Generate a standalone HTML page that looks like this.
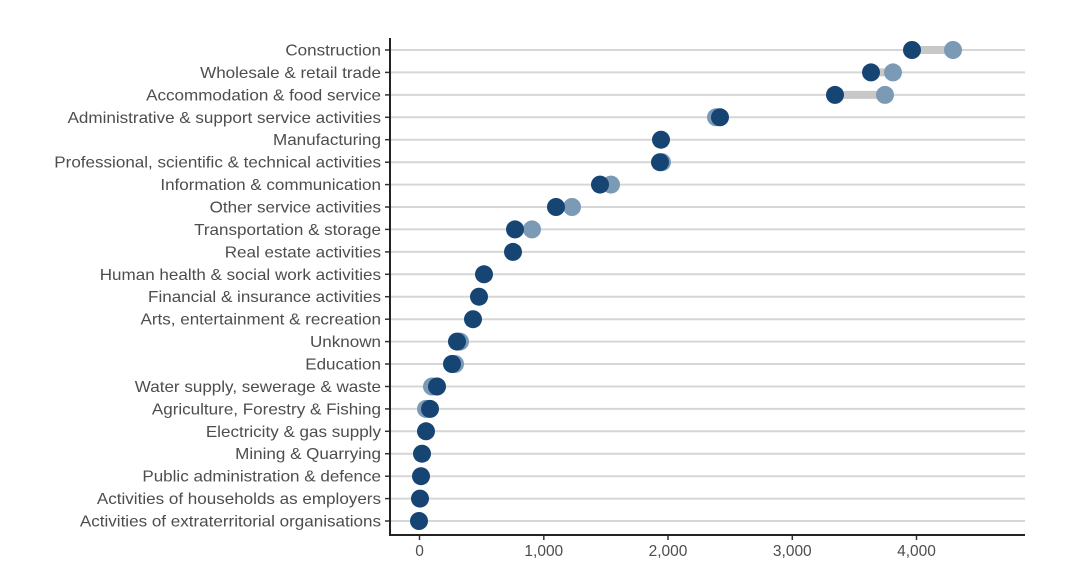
<!DOCTYPE html>
<html><head><meta charset="utf-8"><style>body{margin:0;background:#fff}</style></head><body>
<svg width="1068" height="580" xmlns="http://www.w3.org/2000/svg" font-family="Liberation Sans, sans-serif">
<g stroke="#d6d6d6" stroke-width="2">
<line x1="390" x2="1025" y1="50" y2="50"/><line x1="390" x2="1025" y1="72.4" y2="72.4"/><line x1="390" x2="1025" y1="94.9" y2="94.9"/><line x1="390" x2="1025" y1="117.3" y2="117.3"/><line x1="390" x2="1025" y1="139.7" y2="139.7"/><line x1="390" x2="1025" y1="162.2" y2="162.2"/><line x1="390" x2="1025" y1="184.6" y2="184.6"/><line x1="390" x2="1025" y1="207" y2="207"/><line x1="390" x2="1025" y1="229.4" y2="229.4"/><line x1="390" x2="1025" y1="251.9" y2="251.9"/><line x1="390" x2="1025" y1="274.3" y2="274.3"/><line x1="390" x2="1025" y1="296.7" y2="296.7"/><line x1="390" x2="1025" y1="319.2" y2="319.2"/><line x1="390" x2="1025" y1="341.6" y2="341.6"/><line x1="390" x2="1025" y1="364" y2="364"/><line x1="390" x2="1025" y1="386.5" y2="386.5"/><line x1="390" x2="1025" y1="408.9" y2="408.9"/><line x1="390" x2="1025" y1="431.3" y2="431.3"/><line x1="390" x2="1025" y1="453.7" y2="453.7"/><line x1="390" x2="1025" y1="476.2" y2="476.2"/><line x1="390" x2="1025" y1="498.6" y2="498.6"/><line x1="390" x2="1025" y1="521" y2="521"/>
</g>
<g stroke="#333" stroke-width="1.5">
<line x1="385" x2="390" y1="50" y2="50"/><line x1="385" x2="390" y1="72.4" y2="72.4"/><line x1="385" x2="390" y1="94.9" y2="94.9"/><line x1="385" x2="390" y1="117.3" y2="117.3"/><line x1="385" x2="390" y1="139.7" y2="139.7"/><line x1="385" x2="390" y1="162.2" y2="162.2"/><line x1="385" x2="390" y1="184.6" y2="184.6"/><line x1="385" x2="390" y1="207" y2="207"/><line x1="385" x2="390" y1="229.4" y2="229.4"/><line x1="385" x2="390" y1="251.9" y2="251.9"/><line x1="385" x2="390" y1="274.3" y2="274.3"/><line x1="385" x2="390" y1="296.7" y2="296.7"/><line x1="385" x2="390" y1="319.2" y2="319.2"/><line x1="385" x2="390" y1="341.6" y2="341.6"/><line x1="385" x2="390" y1="364" y2="364"/><line x1="385" x2="390" y1="386.5" y2="386.5"/><line x1="385" x2="390" y1="408.9" y2="408.9"/><line x1="385" x2="390" y1="431.3" y2="431.3"/><line x1="385" x2="390" y1="453.7" y2="453.7"/><line x1="385" x2="390" y1="476.2" y2="476.2"/><line x1="385" x2="390" y1="498.6" y2="498.6"/><line x1="385" x2="390" y1="521" y2="521"/>
<line x1="419.5" x2="419.5" y1="535" y2="540"/><line x1="543.8" x2="543.8" y1="535" y2="540"/><line x1="668" x2="668" y1="535" y2="540"/><line x1="792.3" x2="792.3" y1="535" y2="540"/><line x1="916.5" x2="916.5" y1="535" y2="540"/>
</g>
<g font-size="15.5" fill="#4d4d4d" text-anchor="end" transform="translate(381,0) scale(1.1,1) translate(-381,0)">
<text x="381" y="55.5">Construction</text>
<text x="381" y="77.9">Wholesale &amp; retail trade</text>
<text x="381" y="100.4">Accommodation &amp; food service</text>
<text x="381" y="122.8">Administrative &amp; support service activities</text>
<text x="381" y="145.2">Manufacturing</text>
<text x="381" y="167.7">Professional, scientific &amp; technical activities</text>
<text x="381" y="190.1">Information &amp; communication</text>
<text x="381" y="212.5">Other service activities</text>
<text x="381" y="234.9">Transportation &amp; storage</text>
<text x="381" y="257.4">Real estate activities</text>
<text x="381" y="279.8">Human health &amp; social work activities</text>
<text x="381" y="302.2">Financial &amp; insurance activities</text>
<text x="381" y="324.7">Arts, entertainment &amp; recreation</text>
<text x="381" y="347.1">Unknown</text>
<text x="381" y="369.5">Education</text>
<text x="381" y="392">Water supply, sewerage &amp; waste</text>
<text x="381" y="414.4">Agriculture, Forestry &amp; Fishing</text>
<text x="381" y="436.8">Electricity &amp; gas supply</text>
<text x="381" y="459.2">Mining &amp; Quarrying</text>
<text x="381" y="481.7">Public administration &amp; defence</text>
<text x="381" y="504.1">Activities of households as employers</text>
<text x="381" y="526.5">Activities of extraterritorial organisations</text>
</g>
<g font-size="15.5" fill="#4d4d4d" text-anchor="middle">
<text x="419.5" y="556">0</text><text x="543.8" y="556">1,000</text><text x="668" y="556">2,000</text><text x="792.3" y="556">3,000</text><text x="916.5" y="556">4,000</text>
</g>
<g stroke="#c8c8c8" stroke-width="8">
<line x1="912" x2="953" y1="50" y2="50"/><line x1="871" x2="893" y1="72.4" y2="72.4"/><line x1="835" x2="885" y1="94.9" y2="94.9"/><line x1="600" x2="611" y1="184.6" y2="184.6"/><line x1="556" x2="572" y1="207" y2="207"/><line x1="515" x2="532" y1="229.4" y2="229.4"/>
</g>
<g fill="#7b9ab6">
<circle cx="953" cy="50" r="9"/><circle cx="893" cy="72.4" r="9"/><circle cx="885" cy="94.9" r="9"/><circle cx="716" cy="117.3" r="9"/><circle cx="662" cy="162.2" r="9"/><circle cx="611" cy="184.6" r="9"/><circle cx="572" cy="207" r="9"/><circle cx="532" cy="229.4" r="9"/><circle cx="460" cy="341.6" r="9"/><circle cx="455" cy="364" r="9"/><circle cx="432" cy="386.5" r="9"/><circle cx="426" cy="408.9" r="9"/>
</g>
<g fill="#164473">
<circle cx="912" cy="50" r="9"/><circle cx="871" cy="72.4" r="9"/><circle cx="835" cy="94.9" r="9"/><circle cx="720" cy="117.3" r="9"/><circle cx="661" cy="139.7" r="9"/><circle cx="660" cy="162.2" r="9"/><circle cx="600" cy="184.6" r="9"/><circle cx="556" cy="207" r="9"/><circle cx="515" cy="229.4" r="9"/><circle cx="513" cy="251.9" r="9"/><circle cx="484" cy="274.3" r="9"/><circle cx="479" cy="296.7" r="9"/><circle cx="473" cy="319.2" r="9"/><circle cx="457" cy="341.6" r="9"/><circle cx="452" cy="364" r="9"/><circle cx="437" cy="386.5" r="9"/><circle cx="430" cy="408.9" r="9"/><circle cx="426" cy="431.3" r="9"/><circle cx="422" cy="453.7" r="9"/><circle cx="421" cy="476.2" r="9"/><circle cx="420" cy="498.6" r="9"/><circle cx="419" cy="521" r="9"/>
</g>
<line x1="390" x2="390" y1="38" y2="536" stroke="#222" stroke-width="2"/>
<line x1="389" x2="1025" y1="535" y2="535" stroke="#222" stroke-width="2"/>
</svg>
</body></html>
